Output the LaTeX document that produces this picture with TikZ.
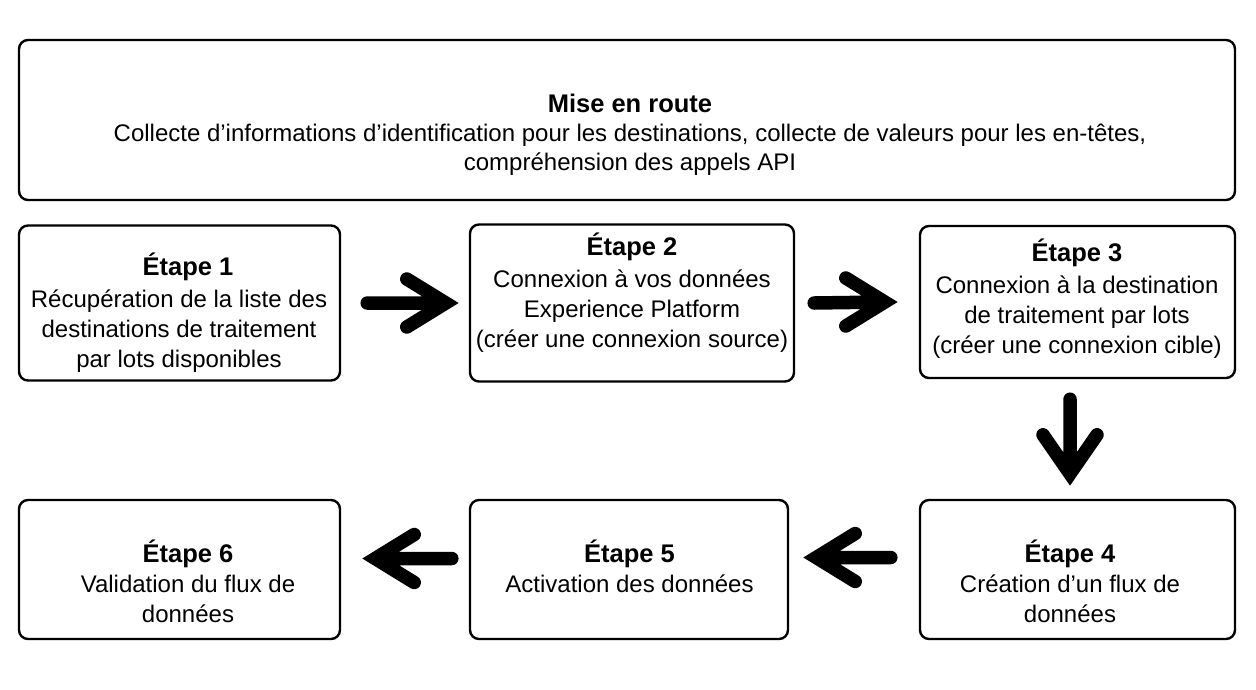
\documentclass[tikz,border=0pt]{standalone}
\usepackage{fontspec}
\setmainfont{Liberation Sans}
\usetikzlibrary{calc}
\newcommand{\ttl}[1]{{\fontsize{25.5}{30}\selectfont\bfseries #1}}
\begin{document}
\begin{tikzpicture}[x=1pt,y=-1pt,
  box/.style={draw=black, line width=2.4pt, rounded corners=9pt, inner sep=0pt},
  lbl/.style={align=center, anchor=base, inner sep=0pt, font=\fontsize{24}{30}\selectfont},
  fat/.style={draw=black, line width=13.5pt, line cap=round, line join=miter, miter limit=10}]
\path[use as bounding box, fill=white] (0,0) rectangle (1256,689);
% boxes
\node[box, minimum width=1216pt, minimum height=160pt] (top) at (627,120) {};
\node[box, minimum width=321pt, minimum height=155pt] (b1) at (179.5,303) {};
\node[box, minimum width=324pt, minimum height=157pt] (b2) at (632,303) {};
\node[box, minimum width=315pt, minimum height=152pt] (b3) at (1077.5,302) {};
\node[box, minimum width=315pt, minimum height=139pt] (b4) at (1077.5,569.5) {};
\node[box, minimum width=318pt, minimum height=139pt] (b5) at (629,569.5) {};
\node[box, minimum width=321pt, minimum height=139pt] (b6) at (179.5,569.5) {};
% texts (anchor base = baseline of the last line)
\node[lbl, font=\fontsize{24}{29}\selectfont] (tt) at (630,170) {\ttl{Mise en route}\\ Collecte d’informations d’identification pour les destinations, collecte de valeurs pour les en-têtes,\\ compréhension des appels API};
\node[lbl] (t1) at (179,367) {\hspace*{18pt}\ttl{Étape 1}\\[2pt] Récupération de la liste des\\ destinations de traitement\\ par lots disponibles};
\node[lbl] (t2) at (632,347) {\ttl{Étape 2}\\[2pt] Connexion à vos données\\ Experience Platform\\ (créer une connexion source)};
\node[lbl] (t3) at (1077,353) {\ttl{Étape 3}\\[2pt] Connexion à la destination\\ de traitement par lots\\ (créer une connexion cible)};
\node[lbl] (t4) at (1070,622) {\ttl{Étape 4}\\ Création d’un flux de\\ données};
\node[lbl] (t5) at (629.5,592) {\ttl{Étape 5}\\ Activation des données};
\node[lbl] (t6) at (188,622) {\ttl{Étape 6}\\ Validation du flux de\hspace*{12pt}\\ données};
% arrows
\draw[fat] ($(b1.east)+(26,0)$) -- ($(b2.west)+(-23,0)$) coordinate (h12)
  ++(-39,-24) -- (h12) -- ++(-39,24);
\draw[fat] ($(b2.east)+(19,0)$) -- ($(b3.west)+(-34,0)$) coordinate (h23)
  ++(-39,-24) -- (h23) -- ++(-39,24);
\draw[fat] ($(b3.south)+(-7.5,20)$) -- ($(b4.north)+(-7.5,-25)$) coordinate (h34)
  ++(-27,-39) -- (h34) -- ++(27,-39);
\draw[fat] ($(b4.west)+(-28,-12)$) -- ($(b5.east)+(27,-12)$) coordinate (h45)
  ++(39,-24) -- (h45) -- ++(39,24);
\draw[fat] ($(b5.west)+(-17,-11)$) -- ($(b6.east)+(34,-11)$) coordinate (h56)
  ++(39,-24) -- (h56) -- ++(39,24);
\end{tikzpicture}
\end{document}
